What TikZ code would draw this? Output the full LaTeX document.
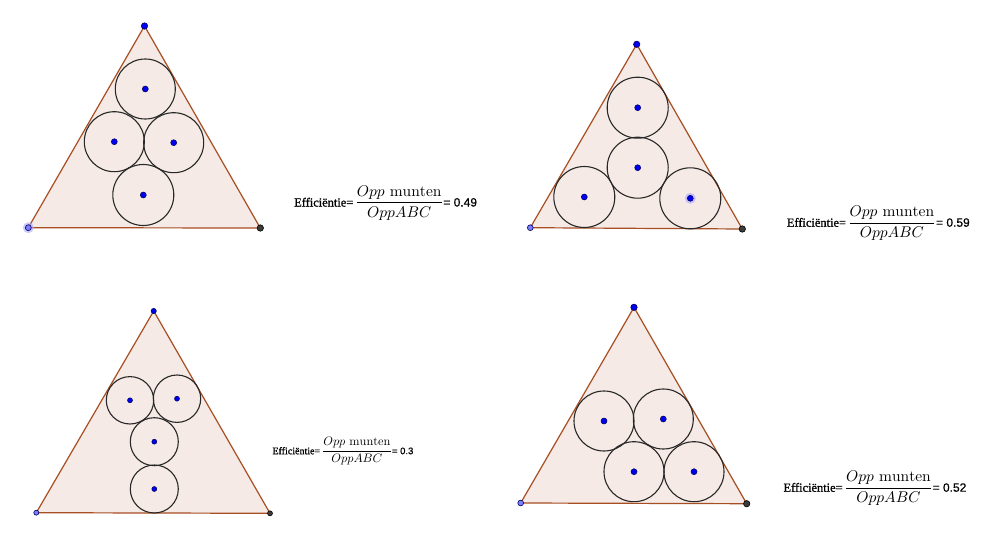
\documentclass[tikz,border=0pt]{standalone}
\usepackage{graphicx}
\usepackage{fontspec}
\newfontfamily\efffont[FakeBold=1.2]{Liberation Serif}
\newfontfamily\numfont[FakeBold=0.6]{Liberation Sans}
\definecolor{trifill}{RGB}{245,234,229}
\definecolor{triedge}{RGB}{168,78,35}
\definecolor{coinc}{RGB}{40,40,40}
\definecolor{ctrblue}{RGB}{0,0,240}
\definecolor{ctrline}{RGB}{0,0,90}
\definecolor{lightpt}{RGB}{125,125,255}
\definecolor{darkpt}{RGB}{60,60,60}
\definecolor{halo}{RGB}{170,170,255}
\newcommand{\effline}[2]{%
  {\fontsize{#1}{#1}\efffont Efficiëntie=}\,%
  \scalebox{#2}{$\displaystyle\frac{Opp\ \mathrm{munten}}{OppABC}$}}
\tikzset{
  tri/.style={fill=trifill, draw=triedge, line width=1.2pt, line join=round},
  coin/.style={circle, draw=coinc, line width=1.1pt, minimum size=#1, inner sep=0pt},
  ctr/.style={circle, fill=ctrblue, draw=ctrline, line width=0.5pt, minimum size=6pt, inner sep=0pt},
  vtop/.style={circle, fill=ctrblue, draw=ctrline, line width=0.6pt, minimum size=#1, inner sep=0pt},
  vleft/.style={circle, fill=lightpt, draw=ctrline, line width=0.6pt, minimum size=#1, inner sep=0pt},
  vright/.style={circle, fill=darkpt, draw=black, line width=0.6pt, minimum size=#1, inner sep=0pt},
  halopt/.style={circle, fill=halo, opacity=0.6, minimum size=11pt, inner sep=0pt},
  eff/.style={anchor=base west, inner sep=0pt, align=left}
}
\begin{document}
\begin{tikzpicture}[x=1pt,y=-1pt]
\useasboundingbox (0,0) rectangle (1005,551);
\fill[white] (0,0) rectangle (1005,551);
% ---------- triangle 1 ----------
\coordinate (A1) at (144.5,26);
\coordinate (B1) at (28.3,227.7);
\coordinate (C1) at (260.3,228);
\draw[tri] (A1) -- (B1) -- (C1) -- cycle;
\node[coin=60pt] (k11) at (145.3,89) {};
\node[coin=60pt] (k12) at (114.3,141.7) {};
\node[coin=60pt] (k13) at (173.7,142.7) {};
\node[coin=61pt] (k14) at (143.3,195) {};
\foreach \k in {k11,k12,k13,k14} \node[ctr] at (\k) {};
\node[halopt] (h1) at (B1) {};
\node[vtop=6.4pt] (pA1) at (A1) {};
\node[vleft=6pt] (pB1) at (B1) {};
\node[vright=6.4pt] (pC1) at (C1) {};
\node[eff] (e1) at (294,206.5) {\effline{12.4}{1.55}{\fontsize{12}{12}\numfont= 0.49}};
% ---------- triangle 2 ----------
\coordinate (A2) at (636.7,44.3);
\coordinate (B2) at (530.3,227.7);
\coordinate (C2) at (742.3,229);
\draw[tri] (A2) -- (B2) -- (C2) -- cycle;
\node[coin=61pt] (k21) at (637.7,107.7) {};
\node[coin=61pt] (k22) at (637.7,167.7) {};
\node[coin=61pt] (k23) at (584.3,197) {};
\node[coin=61pt] (k24) at (690.3,198.3) {};
\node[halopt] (h2) at (k24) {};
\foreach \k in {k21,k22,k23,k24} \node[ctr] at (\k) {};
\node[vtop=6.4pt] (pA2) at (A2) {};
\node[vleft=5.8pt] (pB2) at (B2) {};
\node[vright=6.4pt] (pC2) at (C2) {};
\node[eff] (e2) at (786.7,226.7) {\effline{12.4}{1.55}{\fontsize{12}{12}\numfont= 0.59}};
% ---------- triangle 3 ----------
\coordinate (A3) at (153.7,311);
\coordinate (B3) at (36.3,512.7);
\coordinate (C3) at (270,513.3);
\draw[tri] (A3) -- (B3) -- (C3) -- cycle;
\node[coin=47.4pt] (k31) at (130,400.3) {};
\node[coin=47.4pt] (k32) at (177,398.7) {};
\node[coin=48pt] (k33) at (154.3,441.7) {};
\node[coin=48pt] (k34) at (154.3,489) {};
\foreach \k in {k31,k32,k33,k34} \node[ctr, minimum size=5pt] at (\k) {};
\node[vtop=5.2pt] (pA3) at (A3) {};
\node[vleft=5pt] (pB3) at (B3) {};
\node[vright=5pt] (pC3) at (C3) {};
\node[eff] (e3) at (272.3,454.2) {\effline{10}{1.23}{\fontsize{9.5}{9.5}\numfont= 0.3}};
% ---------- triangle 4 ----------
\coordinate (A4) at (634,307.3);
\coordinate (B4) at (520.7,503);
\coordinate (C4) at (746.7,503.7);
\draw[tri] (A4) -- (B4) -- (C4) -- cycle;
\node[coin=60pt] (k41) at (604,421) {};
\node[coin=60pt] (k42) at (663.3,419) {};
\node[coin=60pt] (k43) at (634,471.7) {};
\node[coin=60pt] (k44) at (694,471.7) {};
\foreach \k in {k41,k42,k43,k44} \node[ctr] at (\k) {};
\node[vtop=6.4pt] (pA4) at (A4) {};
\node[vleft=5.8pt] (pB4) at (B4) {};
\node[vright=6.4pt] (pC4) at (C4) {};
\node[eff] (e4) at (783.3,491.7) {\effline{12.4}{1.55}{\fontsize{12}{12}\numfont= 0.52}};
\end{tikzpicture}
\end{document}
